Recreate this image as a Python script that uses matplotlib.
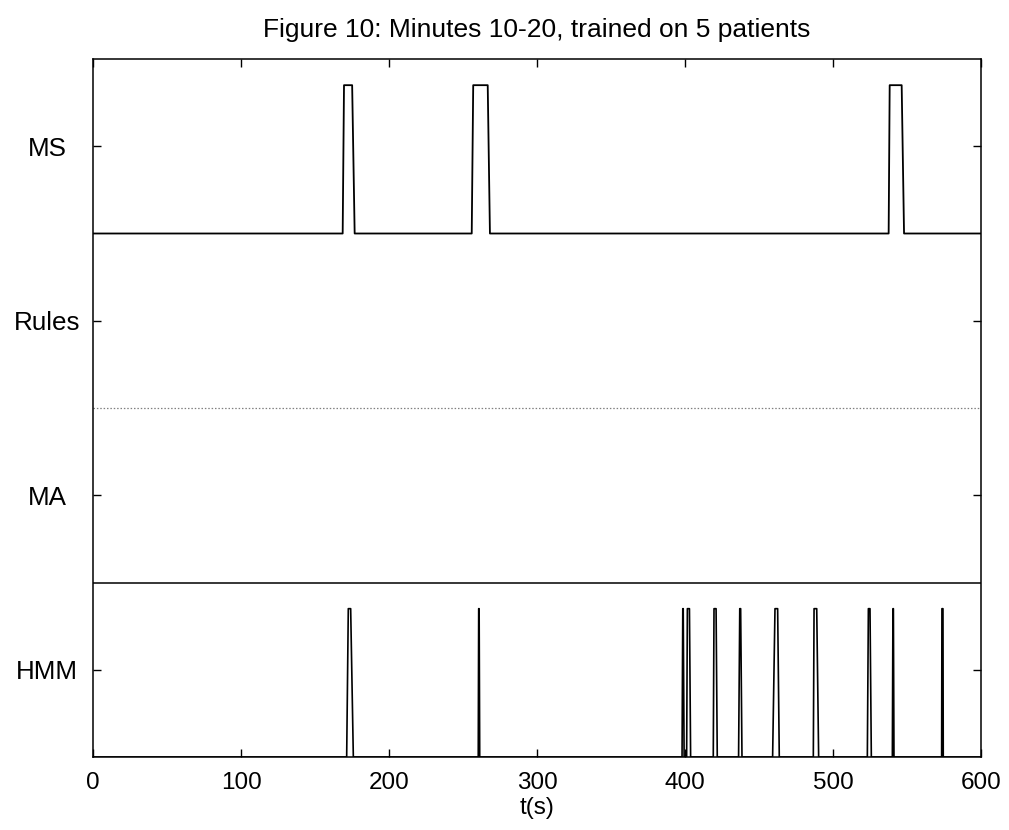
import matplotlib
matplotlib.use("Agg")
import matplotlib.pyplot as plt
from matplotlib import font_manager
import numpy as np

# pick the regular-width Liberation Sans file explicitly
reg_path = None
for f in font_manager.fontManager.ttflist:
    base = f.fname.split('/')[-1]
    if base.startswith('LiberationSans-Regular'):
        reg_path = f.fname
        break
if reg_path is not None:
    fam = font_manager.FontProperties(fname=reg_path).get_name()
    plt.rcParams['font.family'] = [fam, 'DejaVu Sans']
else:
    plt.rcParams['font.family'] = ['Liberation Sans', 'DejaVu Sans']


def fp(size):
    if reg_path is not None:
        return font_manager.FontProperties(fname=reg_path, size=size)
    return font_manager.FontProperties(family='Liberation Sans', size=size)


title = "Figure 10: Minutes 10-20, trained on 5 patients"
row_labels = ["HMM", "MA", "Rules", "MS"]
xticks = [0, 100, 200, 300, 400, 500, 600]
x_max = 600
pulse_height = 0.85

# MS pulses: last zero, top start, top end, first zero (seconds)
ms_rise = [168.7, 255.9, 537.6]
ms_top_start = [169.6, 256.9, 538.3]
ms_top_end = [175.1, 266.7, 546.4]
ms_fall = [176.8, 268.2, 548.0]

# HMM pulses
hmm_rise = [171.4, 260.3, 398.0, 401.1, 419.1, 436.2, 459.2, 486.7, 523.2, 540.1, 573.4]
hmm_top_start = [172.5, 260.6, 398.5, 401.6, 419.6, 437.0, 460.8, 487.2, 523.9, 540.5, 573.6]
hmm_top_end = [174.1, 260.9, 398.8, 403.0, 421.0, 437.6, 462.6, 489.0, 525.0, 540.8, 574.3]
hmm_fall = [175.9, 261.3, 399.4, 403.8, 421.8, 438.5, 463.7, 490.3, 525.9, 541.2, 574.5]

# Rules and MA: no detections (all zero)
rules_rise, rules_top_start, rules_top_end, rules_fall = [], [], [], []
ma_rise, ma_top_start, ma_top_end, ma_fall = [], [], [], []


def trace(rise, ts, te, fall):
    t = [0.0]
    v = [0.0]
    for a, b, c, d in zip(rise, ts, te, fall):
        t += [a, b, c, d]
        v += [0, pulse_height, pulse_height, 0]
    t.append(x_max)
    v.append(0.0)
    return np.array(t), np.array(v)


fig = plt.figure(figsize=(10.09, 8.30), dpi=100)
ax = fig.add_axes([93 / 1009, 1 - 757 / 830, (981 - 93) / 1009, (757 - 59) / 830])

series = [
    (hmm_rise, hmm_top_start, hmm_top_end, hmm_fall, dict(color='black', lw=1.2)),
    (ma_rise, ma_top_start, ma_top_end, ma_fall, dict(color='black', lw=1.1)),
    (rules_rise, rules_top_start, rules_top_end, rules_fall,
     dict(color='0.5', lw=0.9, dashes=(1.2, 1.5))),
    (ms_rise, ms_top_start, ms_top_end, ms_fall, dict(color='black', lw=1.3)),
]
for i, (a, b, c, d, style) in enumerate(series):
    t, v = trace(a, b, c, d)
    ax.plot(t, v + i, **style)

ax.set_xlim(0, x_max)
ax.set_ylim(0, 4)
ax.set_xticks(xticks)
ax.set_xticklabels([str(x) for x in xticks], fontproperties=fp(17.5))
ax.set_yticks([0.5, 1.5, 2.5, 3.5])
ax.set_yticklabels(row_labels, fontproperties=fp(18.7))
for lab in ax.get_yticklabels():
    lab.set_horizontalalignment('center')
ax.tick_params(axis='both', direction='in', length=6, width=1.0,
               top=True, right=True, color='black')
ax.tick_params(axis='y', pad=33)
ax.tick_params(axis='x', pad=11)
for s in ax.spines.values():
    s.set_linewidth(1.1)
ax.set_xlabel("t(s)", fontproperties=fp(17.5), labelpad=2)
fig.text(537 / 1009, 1 - 30 / 830, title, ha='center', va='center',
         fontproperties=fp(19))

fig.savefig("out.png", dpi=100)
